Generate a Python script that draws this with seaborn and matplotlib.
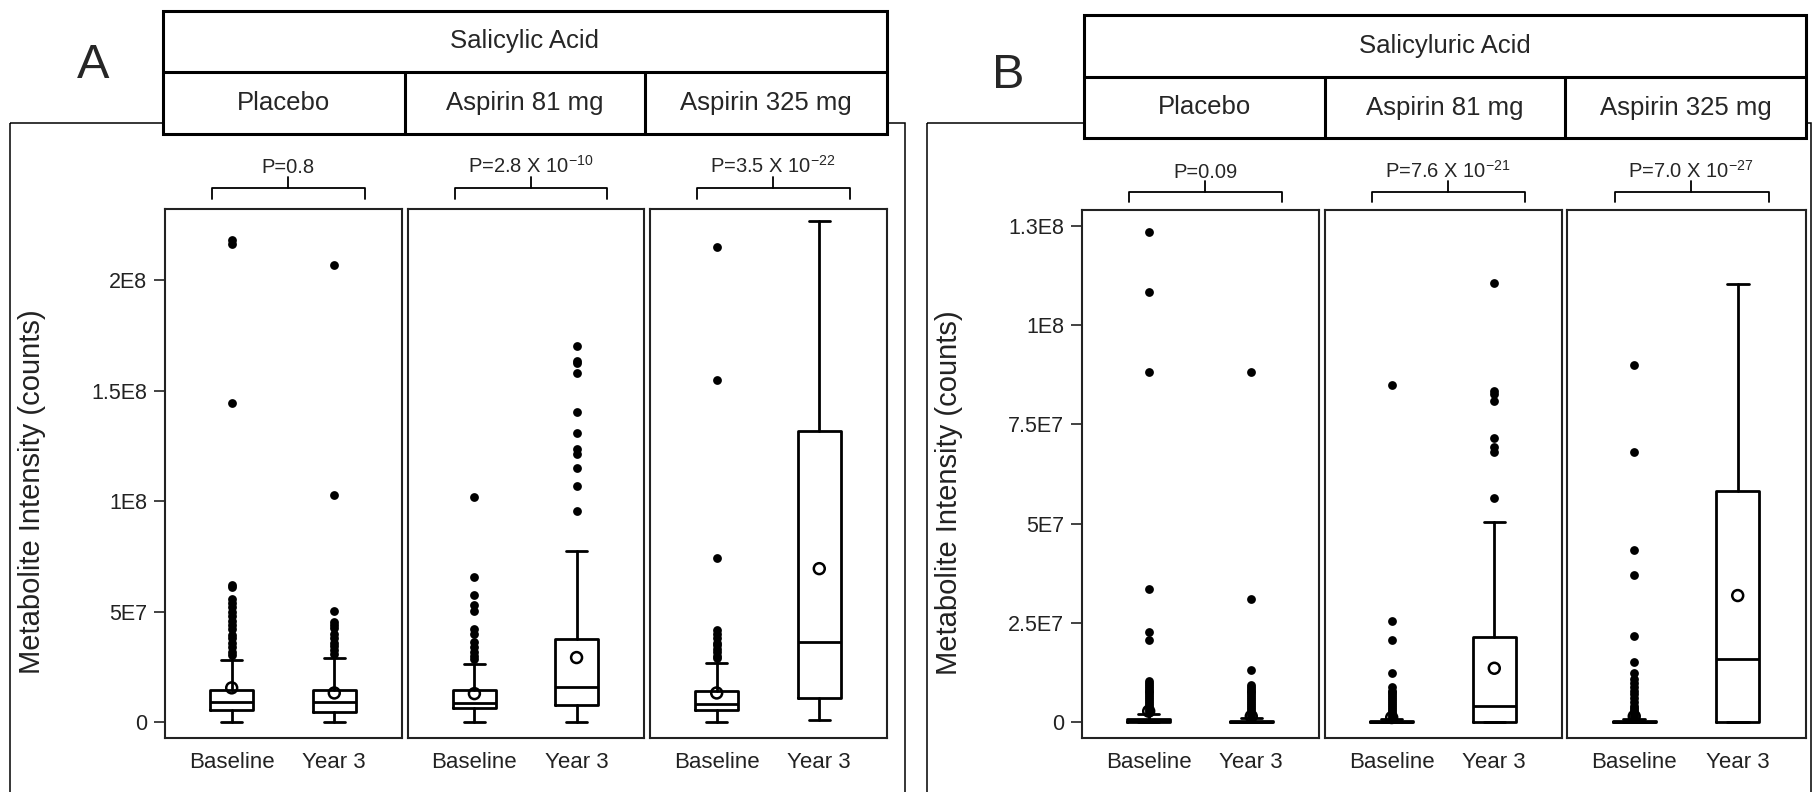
import numpy as np
import pandas as pd
import matplotlib
matplotlib.use("Agg")
import matplotlib.pyplot as plt
import matplotlib.transforms as mtransforms
from matplotlib.patches import Rectangle
import seaborn as sns

W, H = 1812, 792
SCALE = 1e6

groups = ["Placebo", "Aspirin 81 mg", "Aspirin 325 mg"]
times = ["Baseline", "Year 3"]

# Salicylic acid, values in 1e6 counts, [group][time]
sa_whislo = [[0, 0], [0, 0], [0, 1.0]]
sa_q1 = [[5.6, 4.8], [6.5, 7.7], [5.6, 10.8]]
sa_med = [[9.1, 9.1], [8.6, 15.9], [8.2, 36.4]]
sa_q3 = [[14.7, 14.7], [14.7, 37.6], [14.2, 131.7]]
sa_whishi = [[28.2, 29.3], [26.5, 77.7], [27.0, 226.7]]
sa_mean = [[15.6, 13.3], [13.0, 29.3], [13.3, 69.5]]
sa_out = [
    [[30.5, 32, 34, 36, 38, 39.5, 42, 44, 46, 48, 50, 52, 54, 56, 61, 62, 144.5, 216.5, 218],
     [31, 32.5, 34.5, 36, 38, 40, 42.5, 44, 45.5, 50.5, 103, 207]],
    [[28.5, 30, 32, 34, 36.5, 40, 42, 50.5, 53, 57.5, 65.5, 102],
     [95.5, 107, 115, 121.5, 123.5, 131, 140.5, 158, 162.5, 163.5, 170]],
    [[29, 30, 32, 33, 35, 36, 38, 40, 41.6, 74.4, 155, 214.9],
     []],
]
sa_pvals = ["P=0.8", "P=2.8 X 10$^{\\mathregular{-10}}$", "P=3.5 X 10$^{\\mathregular{-22}}$"]
sa_ticks = [0, 50, 100, 150, 200]
sa_ticklabels = ["0", "5E7", "1E8", "1.5E8", "2E8"]

# Salicyluric acid
su_whislo = [[0, 0], [0, 0], [0, 0]]
su_q1 = [[0, 0], [0, 0], [0, 0]]
su_med = [[0.3, 0.1], [0.05, 4.1], [0.1, 16.0]]
su_q3 = [[0.9, 0.4], [0.3, 21.4], [0.3, 58.2]]
su_whishi = [[2.2, 1.0], [0.8, 50.3], [0.8, 110.2]]
su_mean = [[2.8, 1.5], [1.2, 13.6], [1.5, 31.9]]
su_out = [
    [[2.5, 3, 3.5, 4, 4.5, 5, 5.5, 6, 6.5, 7, 7.5, 8, 8.5, 9, 9.5, 10, 10.5, 20.8, 22.7, 33.6, 88.1, 108.4, 123.3],
     [1.5, 2, 2.5, 3, 3.5, 4, 4.5, 5, 5.5, 6, 6.5, 7, 7.5, 8, 8.5, 9, 9.5, 13.1, 31, 88.1]],
    [[1, 1.5, 2, 2.5, 3, 3.5, 4, 4.5, 5, 5.5, 6, 6.5, 7, 7.5, 8, 8.9, 12.4, 20.8, 25.5, 85],
     [56.5, 68.1, 69.3, 71.5, 80.8, 82.7, 83.3, 110.6]],
    [[1, 1.5, 2, 2.5, 3, 3.5, 4, 5, 6, 7, 8, 9, 10, 11, 12.5, 15.3, 21.7, 37.1, 43.4, 68.1, 90],
     []],
]
su_pvals = ["P=0.09", "P=7.6 X 10$^{\\mathregular{-21}}$", "P=7.0 X 10$^{\\mathregular{-27}}$"]
su_ticks = [0, 25, 50, 75, 100, 125]
su_ticklabels = ["0", "2.5E7", "5E7", "7.5E7", "1E8", "1.3E8"]

sns.set_style("white")
plt.rcParams["font.family"] = ["Liberation Sans", "DejaVu Sans"]
plt.rcParams["axes.edgecolor"] = "#222222"

fig = plt.figure(figsize=(W / 100, H / 100), dpi=100)

over = fig.add_axes([0, 0, 1, 1])
over.set_xlim(0, W)
over.set_ylim(H, 0)
over.axis("off")


def px_axes(x0, x1, y0, y1):
    return fig.add_axes([x0 / W, 1 - y1 / H, (x1 - x0) / W, (y1 - y0) / H])


def header(x0, x1, y0, ymid, y1, divs, title):
    over.add_patch(Rectangle((x0, y0), x1 - x0, y1 - y0, facecolor="white",
                             edgecolor="black", lw=2.2, zorder=3))
    over.plot([x0, x1], [ymid, ymid], color="black", lw=2.2, zorder=4)
    edges = [x0] + divs + [x1]
    for d in divs:
        over.plot([d, d], [ymid, y1], color="black", lw=2.2, zorder=4)
    over.text((x0 + x1) / 2, (y0 + ymid) / 2, title, ha="center", va="center",
              fontsize=18.5, zorder=5)
    for i, g in enumerate(groups):
        over.text((edges[i] + edges[i + 1]) / 2, (ymid + y1) / 2, g, ha="center",
                  va="center", fontsize=18.5, zorder=5)


def draw_panel(xspans, y0, y1, whislo, q1, med, q3, whishi, mean, out, pvals,
               ylim, ticks, ticklabels, brk):
    axes = []
    for g, (x0, x1) in enumerate(xspans):
        ax = px_axes(x0, x1, y0, y1)
        stats = []
        for t in range(2):
            stats.append(dict(whislo=whislo[g][t] * SCALE, q1=q1[g][t] * SCALE,
                              med=med[g][t] * SCALE, q3=q3[g][t] * SCALE,
                              whishi=whishi[g][t] * SCALE, fliers=[]))
        lp = dict(color="black", lw=2.0)
        ax.bxp(stats, positions=[0, 1], widths=0.42, showfliers=False,
               boxprops=lp, whiskerprops=lp, capprops=lp, medianprops=lp,
               manage_ticks=False)

        pos, val = [], []
        for t in range(2):
            pos += [t] * len(out[g][t])
            val += [v * SCALE for v in out[g][t]]
        df_out = pd.DataFrame({"pos": pos, "value": val})
        if len(df_out):
            sns.scatterplot(data=df_out, x="pos", y="value", color="black", s=40,
                            linewidth=0, ax=ax, zorder=3, legend=False)
        df_mean = pd.DataFrame({"pos": [0, 1], "value": [m * SCALE for m in mean[g]]})
        sns.scatterplot(data=df_mean, x="pos", y="value", marker="o", s=62,
                        facecolor="none", edgecolor="black", linewidth=1.8,
                        ax=ax, zorder=4, legend=False)

        ax.set_xlim(-0.65, 1.66)
        ax.set_ylim(ylim[0] * SCALE, ylim[1] * SCALE)
        ax.set_xticks([0, 1])
        ax.set_xticklabels(times)
        ax.tick_params(axis="x", length=0, pad=10, labelsize=16, labelcolor="#222222")
        ax.set_xlabel("")
        ax.set_ylabel("")
        for sp in ax.spines.values():
            sp.set_linewidth(1.5)
        if g == 0:
            ax.set_yticks([v * SCALE for v in ticks])
            ax.set_yticklabels(ticklabels)
            ax.tick_params(axis="y", left=True, length=8, width=1.2, pad=5,
                           labelsize=15.5, labelcolor="#222222", color="#222222")
            ax.set_ylabel("Metabolite Intensity (counts)", fontsize=21, color="#222222")
            ax.yaxis.set_label_coords(-0.50, 0.465)
        else:
            ax.set_yticks([])

        # bracket with p-value above each subplot
        h = y1 - y0
        fy = lambda y: (y1 - y) / h
        tr = mtransforms.blended_transform_factory(ax.transData, ax.transAxes)
        yl, ye, yn, yt = brk
        ax.plot([-0.19, -0.19, 1.30, 1.30], [fy(ye), fy(yl), fy(yl), fy(ye)],
                transform=tr, clip_on=False, color="black", lw=1.3)
        ax.plot([0.55, 0.55], [fy(yl), fy(yn)], transform=tr, clip_on=False,
                color="black", lw=1.3)
        ax.text(0.55, fy(yt), pvals[g], transform=tr, ha="center", va="baseline",
                fontsize=14.5)
        axes.append(ax)
    return axes


# outer frames
over.add_patch(Rectangle((10, 122.7), 895, 800, fill=False, edgecolor="black",
                         lw=1.1, clip_on=False, zorder=1))
over.add_patch(Rectangle((926.7, 122.7), 884, 800, fill=False, edgecolor="black",
                         lw=1.1, clip_on=False, zorder=1))

header(163, 887, 11, 71.7, 134.3, [404.5, 645.4], "Salicylic Acid")
header(1084, 1806, 15, 76.7, 138.3, [1325, 1565], "Salicyluric Acid")

over.text(93, 66, "A", ha="center", va="center", fontsize=35)
over.text(1008, 75, "B", ha="center", va="center", fontsize=35)

draw_panel([(165, 402), (408, 644), (650, 887)], 209, 738.3,
           sa_whislo, sa_q1, sa_med, sa_q3, sa_whishi, sa_mean, sa_out, sa_pvals,
           (-7.2, 232.1), sa_ticks, sa_ticklabels, (188, 199, 177, 173))
draw_panel([(1082, 1319), (1325, 1562), (1567, 1806)], 209.5, 738.3,
           su_whislo, su_q1, su_med, su_q3, su_whishi, su_mean, su_out, su_pvals,
           (-4.03, 129.07), su_ticks, su_ticklabels, (191.7, 201.7, 181, 178))

fig.savefig("out.png", dpi=100)
